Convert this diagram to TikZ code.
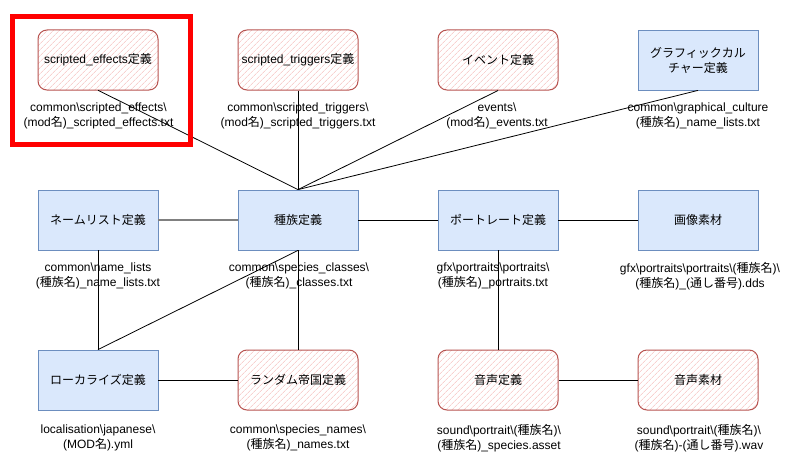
\documentclass[tikz,border=0pt]{standalone}
\usepackage{fontspec}
\setmainfont{Liberation Sans}
\newfontfamily\jpfont{Noto Sans CJK JP}
\newcommand{\J}[1]{{\jpfont #1}}
\newcommand{\bs}{\textbackslash}
\usetikzlibrary{patterns.meta}
\definecolor{bfill}{HTML}{DAE8FC}
\definecolor{bline}{HTML}{6C8EBF}
\definecolor{rline}{HTML}{B85450}
\definecolor{rhatch}{HTML}{F5B8B6}
\tikzset{
  boxbase/.style={minimum width=120pt, minimum height=60pt, inner sep=0pt, align=center, font=\fontsize{12}{15}\selectfont},
  bluebox/.style={boxbase, draw=bline, fill=bfill, line width=0.8pt},
  redbox/.style={boxbase, draw=rline, line width=1pt, rounded corners=9pt,
     pattern={Lines[angle=45,distance=4pt,line width=0.5pt]}, pattern color=rhatch},
  lbl/.style={inner sep=0pt, align=center, font=\fontsize{12}{15}\selectfont},
  conn/.style={draw=black, line width=0.8pt},
  gconn/.style={draw=black!50, line width=2pt}
}
\begin{document}
\begin{tikzpicture}[x=1pt,y=-1pt]
\path[fill=white] (0,0) rectangle (800,460);
\useasboundingbox (0,0) rectangle (800,460);

% connectors first (under boxes)
\coordinate (c0) at (0,0);
% boxes
\node[redbox] (se) at (98,60) {scripted\_effects\J{定義}};
\node[redbox] (st) at (298,60) {scripted\_triggers\J{定義}};
\node[redbox] (ev) at (498,60) {\J{イベント定義}};
\node[bluebox] (gc) at (698,60) {\J{グラフィックカル}\\\J{チャー定義}};
\node[bluebox] (nl) at (98,220) {\J{ネームリスト定義}};
\node[bluebox] (sp) at (298,220) {\J{種族定義}};
\node[bluebox] (pt) at (498,220) {\J{ポートレート定義}};
\node[bluebox] (im) at (698,220) {\J{画像素材}};
\node[bluebox] (lc) at (98,380) {\J{ローカライズ定義}};
\node[redbox] (re) at (298,380) {\J{ランダム帝国定義}};
\node[redbox] (vd) at (498,380) {\J{音声定義}};
\node[redbox] (vm) at (698,380) {\J{音声素材}};

% labels
\node[lbl] (l1) at (98.5,116) {common\bs scripted\_effects\bs\\(mod\J{名})\_scripted\_effects.txt};
\node[lbl] (l2) at (298,116) {common\bs scripted\_triggers\bs\\(mod\J{名})\_scripted\_triggers.txt};
\node[lbl] (l3) at (497,116) {events\bs\\(mod\J{名})\_events.txt};
\node[lbl] (l4) at (698,116) {common\bs graphical\_culture\\(\J{種族名})\_name\_lists.txt};
\node[lbl] (l5) at (98,276) {common\bs name\_lists\\(\J{種族名})\_name\_lists.txt};
\node[lbl] (l6) at (299,276) {common\bs species\_classes\bs\\(\J{種族名})\_classes.txt};
\node[lbl] (l7) at (493,276) {gfx\bs portraits\bs portraits\bs\\(\J{種族名})\_portraits.txt};
\node[lbl] (l8) at (700,276) {gfx\bs portraits\bs portraits\bs(\J{種族名})\bs\\(\J{種族名})\_(\J{通し番号}).dds};
\node[lbl] (l9) at (98,438) {localisation\bs japanese\bs\\(MOD\J{名}).yml};
\node[lbl] (l10) at (298,438) {common\bs species\_names\bs\\(\J{種族名})\_names.txt};
\node[lbl] (l11) at (499,438) {sound\bs portrait\bs(\J{種族名})\bs\\(\J{種族名})\_species.asset};
\node[lbl] (l12) at (699,438) {sound\bs portrait\bs(\J{種族名})\bs\\(\J{種族名})-(\J{通し番号}).wav};

% connectors
\draw[conn] (se.south) -- (sp.north);
\draw[conn] (st.south) -- (sp.north);
\draw[conn] (ev.south) -- (sp.north);
\draw[conn] (gc.south) -- (sp.north);
\draw[gconn] (nl.east) -- (sp.west);
\draw[conn] (sp.east) -- (pt.west);
\draw[conn] (pt.east) -- (im.west);
\draw[conn] (nl.south) -- (lc.north);
\draw[conn] (sp.south) -- (lc.north);
\draw[conn] (sp.south) -- (re.north);
\draw[conn] (pt.south) -- (vd.north);
\draw[conn] (lc.east) -- (re.west);
\draw[conn] (vd.east) -- (vm.west);

% highlight frame
\node[draw=red, line width=5pt, minimum width=178pt, minimum height=128pt, inner sep=0pt] (hl) at (101.5,80.5) {};
\end{tikzpicture}
\end{document}
